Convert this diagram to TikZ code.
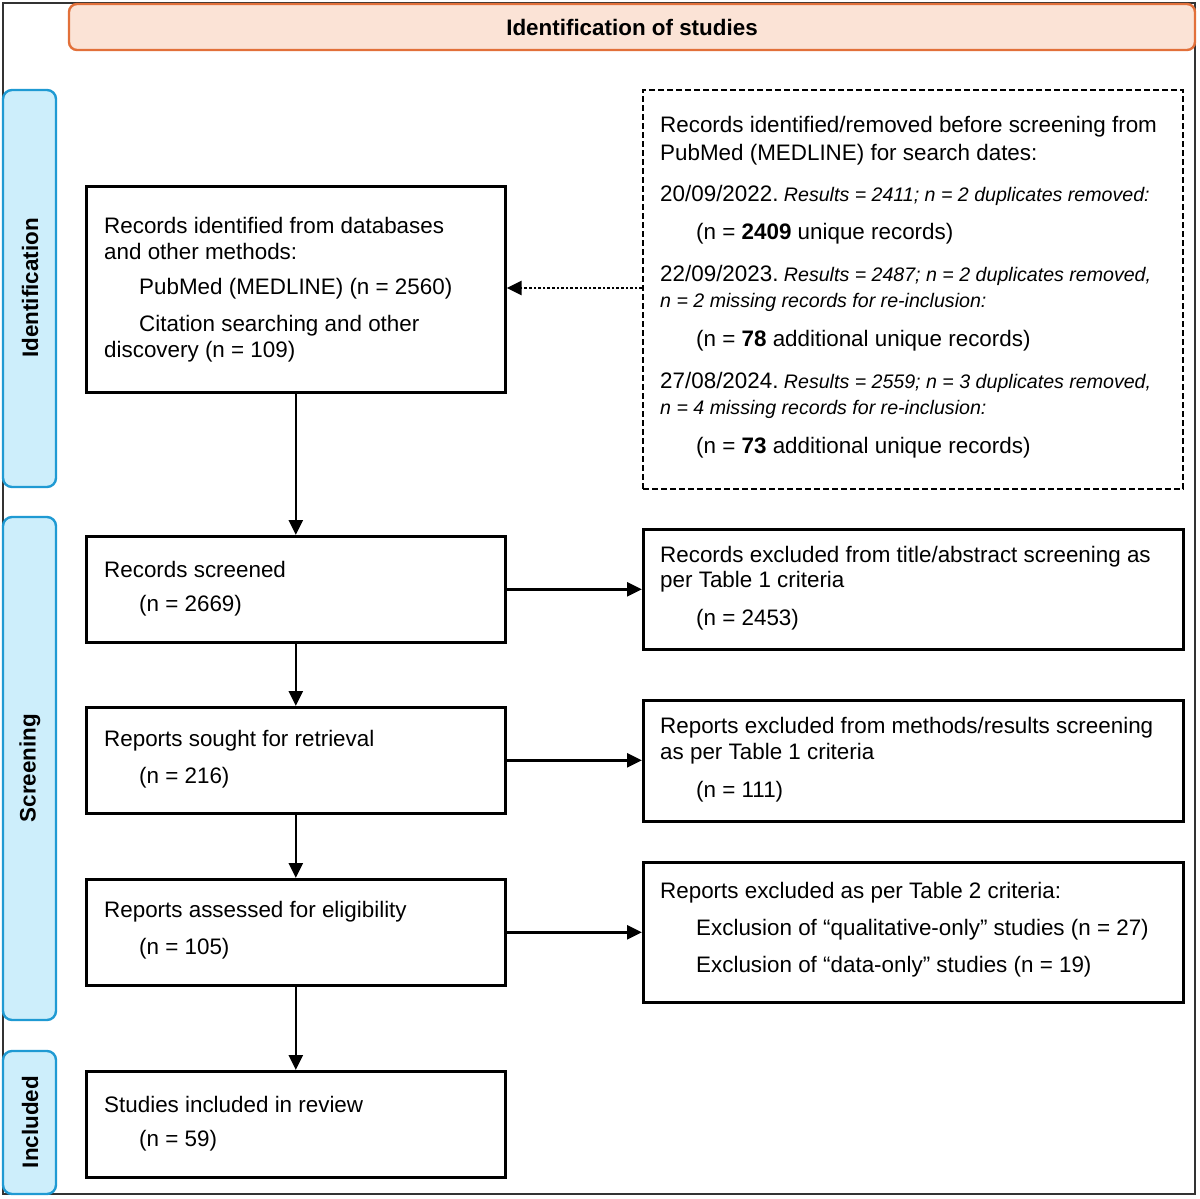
\documentclass[tikz,border=0pt]{standalone}
\usepackage{fontspec}
\setmainfont{Liberation Sans}
\usetikzlibrary{arrows.meta}
\definecolor{hdrfill}{HTML}{FBE3D6}
\definecolor{hdrline}{HTML}{E2703A}
\definecolor{barfill}{HTML}{CDEEFB}
\definecolor{barline}{HTML}{1F9AD3}
\newcommand\myitx{\fontsize{19.6}{22}\selectfont\itshape}
\tikzset{
  box/.style={draw=black, line width=2.6pt},
  dbox/.style={draw=black, line width=2.4pt, dash pattern=on 6pt off 3pt},
  bar/.style={draw=barline, fill=barfill, line width=2.4pt, rounded corners=9pt},
  txt/.style={anchor=west, inner sep=0pt, font=\fontsize{22.4}{26}\selectfont},
  lbl/.style={rotate=90, font=\fontsize{22.4}{26}\selectfont\bfseries, inner sep=0pt},
  arr/.style={line width=2.6pt, -{Triangle[length=15pt,width=14pt]}},
  darr/.style={line width=2.6pt, dotted, -{Triangle[length=15pt,width=14pt]}}
}
\begin{document}
\begin{tikzpicture}[x=1pt,y=-1pt]
\useasboundingbox (0,0) rectangle (1200,1199);
% outer frame
\draw[line width=1.6pt, draw=black!80] (3,3) rectangle (1195,1194);
% header
\draw[draw=hdrline, fill=hdrfill, line width=2.4pt, rounded corners=8pt] (69,4) rectangle (1195,50);
\node[font=\fontsize{22.4}{26}\selectfont\bfseries, inner sep=0pt] (hdr) at (632,27) {Identification of studies};
% side bars
\draw[bar] (3,90) rectangle (56,487);
\draw[bar] (3,517) rectangle (56,1020);
\draw[bar] (3,1051) rectangle (56,1194);
\node[lbl] (lid) at (30,288) {Identification};
\node[lbl] (lsc) at (30,768) {Screening};
\node[lbl] (lin) at (30,1122) {Included};
% left boxes
\node[box, minimum width=419pt, minimum height=206pt, anchor=north west] (b1) at (85,185) {};
\node[box, minimum width=419pt, minimum height=106pt, anchor=north west] (b2) at (85,535) {};
\node[box, minimum width=419pt, minimum height=106pt, anchor=north west] (b3) at (85,706) {};
\node[box, minimum width=419pt, minimum height=106pt, anchor=north west] (b4) at (85,878) {};
\node[box, minimum width=419pt, minimum height=106pt, anchor=north west] (b5) at (85,1070) {};
% right boxes
\node[dbox, minimum width=540pt, minimum height=399pt, anchor=north west] (d1) at (642,89) {};
\node[box, minimum width=540pt, minimum height=120pt, anchor=north west] (r1) at (642,528) {};
\node[box, minimum width=540pt, minimum height=121pt, anchor=north west] (r2) at (642,699) {};
\node[box, minimum width=540pt, minimum height=140pt, anchor=north west] (r3) at (642,861) {};
% box texts
\node[txt] (t11) at (104,225) {Records identified from databases};
\node[txt] (t12) at (104,251) {and other methods:};
\node[txt] (t13) at (139,289) {PubMed (MEDLINE) (n = 2560)};
\node[txt] (t14) at (139,326) {Citation searching and other};
\node[txt] (t15) at (104,352) {discovery (n = 109)};
\node[txt] (t21) at (104,569) {Records screened};
\node[txt] (t22) at (139,606) {(n = 2669)};
\node[txt] (t31) at (104,741) {Reports sought for retrieval};
\node[txt] (t32) at (139,778) {(n = 216)};
\node[txt] (t41) at (104,912) {Reports assessed for eligibility};
\node[txt] (t42) at (139,949) {(n = 105)};
\node[txt] (t51) at (104,1104) {Studies included in review};
\node[txt] (t52) at (139,1141) {(n = 59)};
% right texts
\node[txt] (s11) at (660,557) {Records excluded from title/abstract screening as};
\node[txt] (s12) at (660,582) {per Table 1 criteria};
\node[txt] (s13) at (696,620) {(n = 2453)};
\node[txt] (s21) at (660,728) {Reports excluded from methods/results screening};
\node[txt] (s22) at (660,754) {as per Table 1 criteria};
\node[txt] (s23) at (696,792) {(n = 111)};
\node[txt] (s31) at (660,893) {Reports excluded as per Table 2 criteria:};
\node[txt] (s32) at (696,930) {Exclusion of “qualitative-only” studies (n = 27)};
\node[txt] (s33) at (696,967) {Exclusion of “data-only” studies (n = 19)};
% dashed box texts
\node[txt] (u1) at (660,127) {Records identified/removed before screening from};
\node[txt] (u2) at (660,155) {PubMed (MEDLINE) for search dates:};
\node[txt] (u3) at (660,195) {20/09/2022.{\myitx\ Results = 2411; n = 2 duplicates removed:}};
\node[txt] (u4) at (696,234) {(n = \textbf{2409} unique records)};
\node[txt] (u5) at (660,275) {22/09/2023.{\myitx\ Results = 2487; n = 2 duplicates removed,}};
\node[txt] (u6) at (660,302) {\myitx n = 2 missing records for re-inclusion:};
\node[txt] (u7) at (696,341) {(n = \textbf{78} additional unique records)};
\node[txt] (u8) at (660,382) {27/08/2024.{\myitx\ Results = 2559; n = 3 duplicates removed,}};
\node[txt] (u9) at (660,409) {\myitx n = 4 missing records for re-inclusion:};
\node[txt] (u10) at (696,448) {(n = \textbf{73} additional unique records)};
% connectors
\draw[arr] (b1.south) -- (b2.north);
\draw[arr] (b2.south) -- (b3.north);
\draw[arr] (b3.south) -- (b4.north);
\draw[arr] (b4.south) -- (b5.north);
\draw[arr] (b2.east) -- (b2.east -| r1.west);
\draw[arr] (b3.east) -- (b3.east -| r2.west);
\draw[arr] (b4.east) -- (b4.east -| r3.west);
\coordinate (dsrc) at (642,288);
\draw[darr] (dsrc) -- (dsrc -| b1.east);
\end{tikzpicture}
\end{document}
